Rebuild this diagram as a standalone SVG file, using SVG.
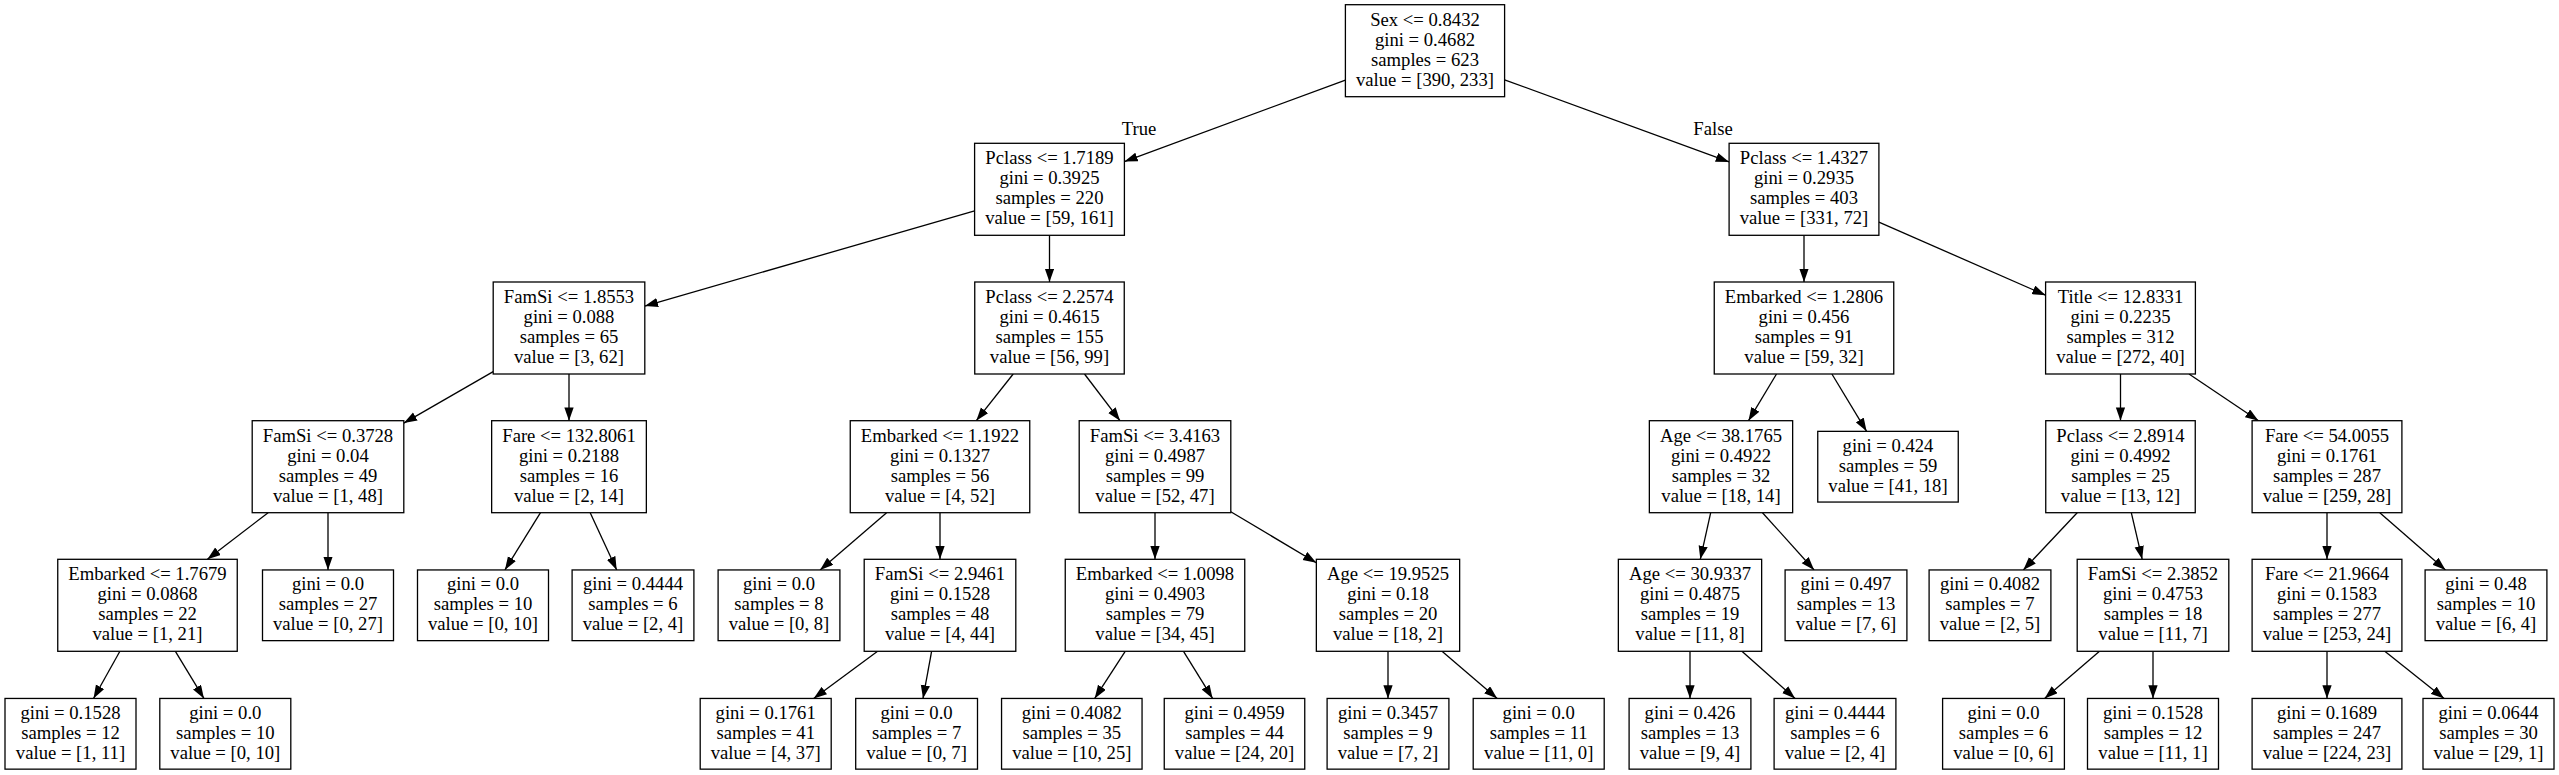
<svg xmlns="http://www.w3.org/2000/svg" width="2559" height="775" viewBox="0 0 2559 775">
<style>
rect.b{fill:#fff;stroke:#000;stroke-width:1.3}
text{font-family:"Liberation Serif","Times New Roman",serif;font-size:18.67px;text-anchor:middle;fill:#000}
#edges line{stroke:#000;stroke-width:1.3;marker-end:url(#arr)}
</style>
<defs>
<marker id="arr" markerUnits="userSpaceOnUse" markerWidth="14" markerHeight="10" refX="13.3" refY="4.65" orient="auto" viewBox="0 0 14 10">
<path d="M0,0 L13.3,4.65 L0,9.3 z" fill="#000"/>
</marker>
</defs>
<rect x="0" y="0" width="2559" height="775" fill="#fff"/>
<g id="edges">
<line x1="1345.4" y1="80.1" x2="1124.4" y2="161.6"/>
<line x1="1504.6" y1="79.8" x2="1729.1" y2="161.9"/>
<line x1="974.6" y1="210.9" x2="644.8" y2="306.1"/>
<line x1="1049.5" y1="235.3" x2="1049.5" y2="282"/>
<line x1="1804" y1="235.3" x2="1804" y2="282"/>
<line x1="1878.9" y1="222.1" x2="2045.6" y2="295.2"/>
<line x1="493.2" y1="371.6" x2="403.8" y2="423.1"/>
<line x1="569" y1="374" x2="569" y2="420.7"/>
<line x1="1013.2" y1="374" x2="976.3" y2="420.7"/>
<line x1="1084.5" y1="374" x2="1120" y2="420.7"/>
<line x1="1776.5" y1="374" x2="1748.5" y2="420.7"/>
<line x1="1831.9" y1="374" x2="1866.6" y2="431.35"/>
<line x1="2120.5" y1="374" x2="2120.5" y2="420.7"/>
<line x1="2189" y1="374" x2="2258.5" y2="420.7"/>
<line x1="268.1" y1="512.7" x2="207.4" y2="559.3"/>
<line x1="328" y1="512.7" x2="328" y2="569.95"/>
<line x1="540.5" y1="512.7" x2="504.9" y2="569.95"/>
<line x1="590.2" y1="512.7" x2="616.7" y2="569.95"/>
<line x1="886.6" y1="512.7" x2="820.1" y2="569.95"/>
<line x1="940" y1="512.7" x2="940" y2="559.3"/>
<line x1="1155" y1="512.7" x2="1155" y2="559.3"/>
<line x1="1230.8" y1="511.8" x2="1316.35" y2="562.7"/>
<line x1="1710.7" y1="512.7" x2="1700.3" y2="559.3"/>
<line x1="1762.5" y1="512.7" x2="1814.1" y2="569.95"/>
<line x1="2077.2" y1="512.7" x2="2023.3" y2="569.95"/>
<line x1="2131.3" y1="512.7" x2="2142.2" y2="559.3"/>
<line x1="2327" y1="512.7" x2="2327" y2="559.3"/>
<line x1="2379.8" y1="512.7" x2="2445.5" y2="569.95"/>
<line x1="119.9" y1="651.3" x2="93.5" y2="698.45"/>
<line x1="175.4" y1="651.3" x2="203.9" y2="698.45"/>
<line x1="877.6" y1="651.3" x2="813.65" y2="698.45"/>
<line x1="931.6" y1="651.3" x2="923" y2="698.45"/>
<line x1="1125.2" y1="651.3" x2="1094.7" y2="698.45"/>
<line x1="1183.5" y1="651.3" x2="1212.6" y2="698.45"/>
<line x1="1388" y1="651.3" x2="1388" y2="698.45"/>
<line x1="1442" y1="651.3" x2="1497.2" y2="698.45"/>
<line x1="1690" y1="651.3" x2="1690" y2="698.45"/>
<line x1="1741.9" y1="651.3" x2="1795.1" y2="698.45"/>
<line x1="2099.5" y1="651.3" x2="2044.6" y2="698.45"/>
<line x1="2153" y1="651.3" x2="2153" y2="698.45"/>
<line x1="2327" y1="651.3" x2="2327" y2="698.45"/>
<line x1="2384.8" y1="651.3" x2="2444.1" y2="698.45"/>
<text x="1139" y="135">True</text>
<text x="1713" y="135">False</text>
</g>
<g id="n0"><rect class="b" x="1345.4" y="4.7" width="159.2" height="92"/><text y="25.7"><tspan x="1425">Sex &lt;= 0.8432</tspan><tspan x="1425" dy="20">gini = 0.4682</tspan><tspan x="1425" dy="20">samples = 623</tspan><tspan x="1425" dy="20">value = [390, 233]</tspan></text></g>
<g id="n1"><rect class="b" x="974.6" y="143.3" width="149.8" height="92"/><text y="164.3"><tspan x="1049.5">Pclass &lt;= 1.7189</tspan><tspan x="1049.5" dy="20">gini = 0.3925</tspan><tspan x="1049.5" dy="20">samples = 220</tspan><tspan x="1049.5" dy="20">value = [59, 161]</tspan></text></g>
<g id="n2"><rect class="b" x="1729.1" y="143.3" width="149.8" height="92"/><text y="164.3"><tspan x="1804">Pclass &lt;= 1.4327</tspan><tspan x="1804" dy="20">gini = 0.2935</tspan><tspan x="1804" dy="20">samples = 403</tspan><tspan x="1804" dy="20">value = [331, 72]</tspan></text></g>
<g id="n3"><rect class="b" x="493.2" y="282" width="151.6" height="92"/><text y="303"><tspan x="569">FamSi &lt;= 1.8553</tspan><tspan x="569" dy="20">gini = 0.088</tspan><tspan x="569" dy="20">samples = 65</tspan><tspan x="569" dy="20">value = [3, 62]</tspan></text></g>
<g id="n4"><rect class="b" x="974.75" y="282" width="149.5" height="92"/><text y="303"><tspan x="1049.5">Pclass &lt;= 2.2574</tspan><tspan x="1049.5" dy="20">gini = 0.4615</tspan><tspan x="1049.5" dy="20">samples = 155</tspan><tspan x="1049.5" dy="20">value = [56, 99]</tspan></text></g>
<g id="n5"><rect class="b" x="1714.25" y="282" width="179.5" height="92"/><text y="303"><tspan x="1804">Embarked &lt;= 1.2806</tspan><tspan x="1804" dy="20">gini = 0.456</tspan><tspan x="1804" dy="20">samples = 91</tspan><tspan x="1804" dy="20">value = [59, 32]</tspan></text></g>
<g id="n6"><rect class="b" x="2045.6" y="282" width="149.8" height="92"/><text y="303"><tspan x="2120.5">Title &lt;= 12.8331</tspan><tspan x="2120.5" dy="20">gini = 0.2235</tspan><tspan x="2120.5" dy="20">samples = 312</tspan><tspan x="2120.5" dy="20">value = [272, 40]</tspan></text></g>
<g id="n7"><rect class="b" x="252.2" y="420.7" width="151.6" height="92"/><text y="441.7"><tspan x="328">FamSi &lt;= 0.3728</tspan><tspan x="328" dy="20">gini = 0.04</tspan><tspan x="328" dy="20">samples = 49</tspan><tspan x="328" dy="20">value = [1, 48]</tspan></text></g>
<g id="n8"><rect class="b" x="491.65" y="420.7" width="154.7" height="92"/><text y="441.7"><tspan x="569">Fare &lt;= 132.8061</tspan><tspan x="569" dy="20">gini = 0.2188</tspan><tspan x="569" dy="20">samples = 16</tspan><tspan x="569" dy="20">value = [2, 14]</tspan></text></g>
<g id="n9"><rect class="b" x="850.25" y="420.7" width="179.5" height="92"/><text y="441.7"><tspan x="940">Embarked &lt;= 1.1922</tspan><tspan x="940" dy="20">gini = 0.1327</tspan><tspan x="940" dy="20">samples = 56</tspan><tspan x="940" dy="20">value = [4, 52]</tspan></text></g>
<g id="n10"><rect class="b" x="1079.2" y="420.7" width="151.6" height="92"/><text y="441.7"><tspan x="1155">FamSi &lt;= 3.4163</tspan><tspan x="1155" dy="20">gini = 0.4987</tspan><tspan x="1155" dy="20">samples = 99</tspan><tspan x="1155" dy="20">value = [52, 47]</tspan></text></g>
<g id="n11"><rect class="b" x="1649.35" y="420.7" width="143.3" height="92"/><text y="441.7"><tspan x="1721">Age &lt;= 38.1765</tspan><tspan x="1721" dy="20">gini = 0.4922</tspan><tspan x="1721" dy="20">samples = 32</tspan><tspan x="1721" dy="20">value = [18, 14]</tspan></text></g>
<g id="n12"><rect class="b" x="1817.75" y="431.35" width="140.5" height="70.7"/><text y="451.7"><tspan x="1888">gini = 0.424</tspan><tspan x="1888" dy="20">samples = 59</tspan><tspan x="1888" dy="20">value = [41, 18]</tspan></text></g>
<g id="n13"><rect class="b" x="2045.75" y="420.7" width="149.5" height="92"/><text y="441.7"><tspan x="2120.5">Pclass &lt;= 2.8914</tspan><tspan x="2120.5" dy="20">gini = 0.4992</tspan><tspan x="2120.5" dy="20">samples = 25</tspan><tspan x="2120.5" dy="20">value = [13, 12]</tspan></text></g>
<g id="n14"><rect class="b" x="2252.1" y="420.7" width="149.8" height="92"/><text y="441.7"><tspan x="2327">Fare &lt;= 54.0055</tspan><tspan x="2327" dy="20">gini = 0.1761</tspan><tspan x="2327" dy="20">samples = 287</tspan><tspan x="2327" dy="20">value = [259, 28]</tspan></text></g>
<g id="n15"><rect class="b" x="57.75" y="559.3" width="179.5" height="92"/><text y="580.3"><tspan x="147.5">Embarked &lt;= 1.7679</tspan><tspan x="147.5" dy="20">gini = 0.0868</tspan><tspan x="147.5" dy="20">samples = 22</tspan><tspan x="147.5" dy="20">value = [1, 21]</tspan></text></g>
<g id="n16"><rect class="b" x="262.5" y="569.95" width="131" height="70.7"/><text y="590.3"><tspan x="328">gini = 0.0</tspan><tspan x="328" dy="20">samples = 27</tspan><tspan x="328" dy="20">value = [0, 27]</tspan></text></g>
<g id="n17"><rect class="b" x="417.5" y="569.95" width="131" height="70.7"/><text y="590.3"><tspan x="483">gini = 0.0</tspan><tspan x="483" dy="20">samples = 10</tspan><tspan x="483" dy="20">value = [0, 10]</tspan></text></g>
<g id="n18"><rect class="b" x="572.1" y="569.95" width="121.8" height="70.7"/><text y="590.3"><tspan x="633">gini = 0.4444</tspan><tspan x="633" dy="20">samples = 6</tspan><tspan x="633" dy="20">value = [2, 4]</tspan></text></g>
<g id="n19"><rect class="b" x="718.1" y="569.95" width="121.8" height="70.7"/><text y="590.3"><tspan x="779">gini = 0.0</tspan><tspan x="779" dy="20">samples = 8</tspan><tspan x="779" dy="20">value = [0, 8]</tspan></text></g>
<g id="n20"><rect class="b" x="864.2" y="559.3" width="151.6" height="92"/><text y="580.3"><tspan x="940">FamSi &lt;= 2.9461</tspan><tspan x="940" dy="20">gini = 0.1528</tspan><tspan x="940" dy="20">samples = 48</tspan><tspan x="940" dy="20">value = [4, 44]</tspan></text></g>
<g id="n21"><rect class="b" x="1065.25" y="559.3" width="179.5" height="92"/><text y="580.3"><tspan x="1155">Embarked &lt;= 1.0098</tspan><tspan x="1155" dy="20">gini = 0.4903</tspan><tspan x="1155" dy="20">samples = 79</tspan><tspan x="1155" dy="20">value = [34, 45]</tspan></text></g>
<g id="n22"><rect class="b" x="1316.35" y="559.3" width="143.3" height="92"/><text y="580.3"><tspan x="1388">Age &lt;= 19.9525</tspan><tspan x="1388" dy="20">gini = 0.18</tspan><tspan x="1388" dy="20">samples = 20</tspan><tspan x="1388" dy="20">value = [18, 2]</tspan></text></g>
<g id="n23"><rect class="b" x="1618.35" y="559.3" width="143.3" height="92"/><text y="580.3"><tspan x="1690">Age &lt;= 30.9337</tspan><tspan x="1690" dy="20">gini = 0.4875</tspan><tspan x="1690" dy="20">samples = 19</tspan><tspan x="1690" dy="20">value = [11, 8]</tspan></text></g>
<g id="n24"><rect class="b" x="1785.1" y="569.95" width="121.8" height="70.7"/><text y="590.3"><tspan x="1846">gini = 0.497</tspan><tspan x="1846" dy="20">samples = 13</tspan><tspan x="1846" dy="20">value = [7, 6]</tspan></text></g>
<g id="n25"><rect class="b" x="1929.1" y="569.95" width="121.8" height="70.7"/><text y="590.3"><tspan x="1990">gini = 0.4082</tspan><tspan x="1990" dy="20">samples = 7</tspan><tspan x="1990" dy="20">value = [2, 5]</tspan></text></g>
<g id="n26"><rect class="b" x="2077.2" y="559.3" width="151.6" height="92"/><text y="580.3"><tspan x="2153">FamSi &lt;= 2.3852</tspan><tspan x="2153" dy="20">gini = 0.4753</tspan><tspan x="2153" dy="20">samples = 18</tspan><tspan x="2153" dy="20">value = [11, 7]</tspan></text></g>
<g id="n27"><rect class="b" x="2252.1" y="559.3" width="149.8" height="92"/><text y="580.3"><tspan x="2327">Fare &lt;= 21.9664</tspan><tspan x="2327" dy="20">gini = 0.1583</tspan><tspan x="2327" dy="20">samples = 277</tspan><tspan x="2327" dy="20">value = [253, 24]</tspan></text></g>
<g id="n28"><rect class="b" x="2425.1" y="569.95" width="121.8" height="70.7"/><text y="590.3"><tspan x="2486">gini = 0.48</tspan><tspan x="2486" dy="20">samples = 10</tspan><tspan x="2486" dy="20">value = [6, 4]</tspan></text></g>
<g id="n29"><rect class="b" x="5" y="698.45" width="131" height="70.7"/><text y="718.8"><tspan x="70.5">gini = 0.1528</tspan><tspan x="70.5" dy="20">samples = 12</tspan><tspan x="70.5" dy="20">value = [1, 11]</tspan></text></g>
<g id="n30"><rect class="b" x="159.8" y="698.45" width="131" height="70.7"/><text y="718.8"><tspan x="225.3">gini = 0.0</tspan><tspan x="225.3" dy="20">samples = 10</tspan><tspan x="225.3" dy="20">value = [0, 10]</tspan></text></g>
<g id="n31"><rect class="b" x="700.2" y="698.45" width="131" height="70.7"/><text y="718.8"><tspan x="765.7">gini = 0.1761</tspan><tspan x="765.7" dy="20">samples = 41</tspan><tspan x="765.7" dy="20">value = [4, 37]</tspan></text></g>
<g id="n32"><rect class="b" x="855.7" y="698.45" width="121.8" height="70.7"/><text y="718.8"><tspan x="916.6">gini = 0.0</tspan><tspan x="916.6" dy="20">samples = 7</tspan><tspan x="916.6" dy="20">value = [0, 7]</tspan></text></g>
<g id="n33"><rect class="b" x="1001.55" y="698.45" width="140.5" height="70.7"/><text y="718.8"><tspan x="1071.8">gini = 0.4082</tspan><tspan x="1071.8" dy="20">samples = 35</tspan><tspan x="1071.8" dy="20">value = [10, 25]</tspan></text></g>
<g id="n34"><rect class="b" x="1164.25" y="698.45" width="140.5" height="70.7"/><text y="718.8"><tspan x="1234.5">gini = 0.4959</tspan><tspan x="1234.5" dy="20">samples = 44</tspan><tspan x="1234.5" dy="20">value = [24, 20]</tspan></text></g>
<g id="n35"><rect class="b" x="1327.1" y="698.45" width="121.8" height="70.7"/><text y="718.8"><tspan x="1388">gini = 0.3457</tspan><tspan x="1388" dy="20">samples = 9</tspan><tspan x="1388" dy="20">value = [7, 2]</tspan></text></g>
<g id="n36"><rect class="b" x="1473.2" y="698.45" width="131" height="70.7"/><text y="718.8"><tspan x="1538.7">gini = 0.0</tspan><tspan x="1538.7" dy="20">samples = 11</tspan><tspan x="1538.7" dy="20">value = [11, 0]</tspan></text></g>
<g id="n37"><rect class="b" x="1629.1" y="698.45" width="121.8" height="70.7"/><text y="718.8"><tspan x="1690">gini = 0.426</tspan><tspan x="1690" dy="20">samples = 13</tspan><tspan x="1690" dy="20">value = [9, 4]</tspan></text></g>
<g id="n38"><rect class="b" x="1774.1" y="698.45" width="121.8" height="70.7"/><text y="718.8"><tspan x="1835">gini = 0.4444</tspan><tspan x="1835" dy="20">samples = 6</tspan><tspan x="1835" dy="20">value = [2, 4]</tspan></text></g>
<g id="n39"><rect class="b" x="1942.6" y="698.45" width="121.8" height="70.7"/><text y="718.8"><tspan x="2003.5">gini = 0.0</tspan><tspan x="2003.5" dy="20">samples = 6</tspan><tspan x="2003.5" dy="20">value = [0, 6]</tspan></text></g>
<g id="n40"><rect class="b" x="2087.5" y="698.45" width="131" height="70.7"/><text y="718.8"><tspan x="2153">gini = 0.1528</tspan><tspan x="2153" dy="20">samples = 12</tspan><tspan x="2153" dy="20">value = [11, 1]</tspan></text></g>
<g id="n41"><rect class="b" x="2252.1" y="698.45" width="149.8" height="70.7"/><text y="718.8"><tspan x="2327">gini = 0.1689</tspan><tspan x="2327" dy="20">samples = 247</tspan><tspan x="2327" dy="20">value = [224, 23]</tspan></text></g>
<g id="n42"><rect class="b" x="2423" y="698.45" width="131" height="70.7"/><text y="718.8"><tspan x="2488.5">gini = 0.0644</tspan><tspan x="2488.5" dy="20">samples = 30</tspan><tspan x="2488.5" dy="20">value = [29, 1]</tspan></text></g>
</svg>
